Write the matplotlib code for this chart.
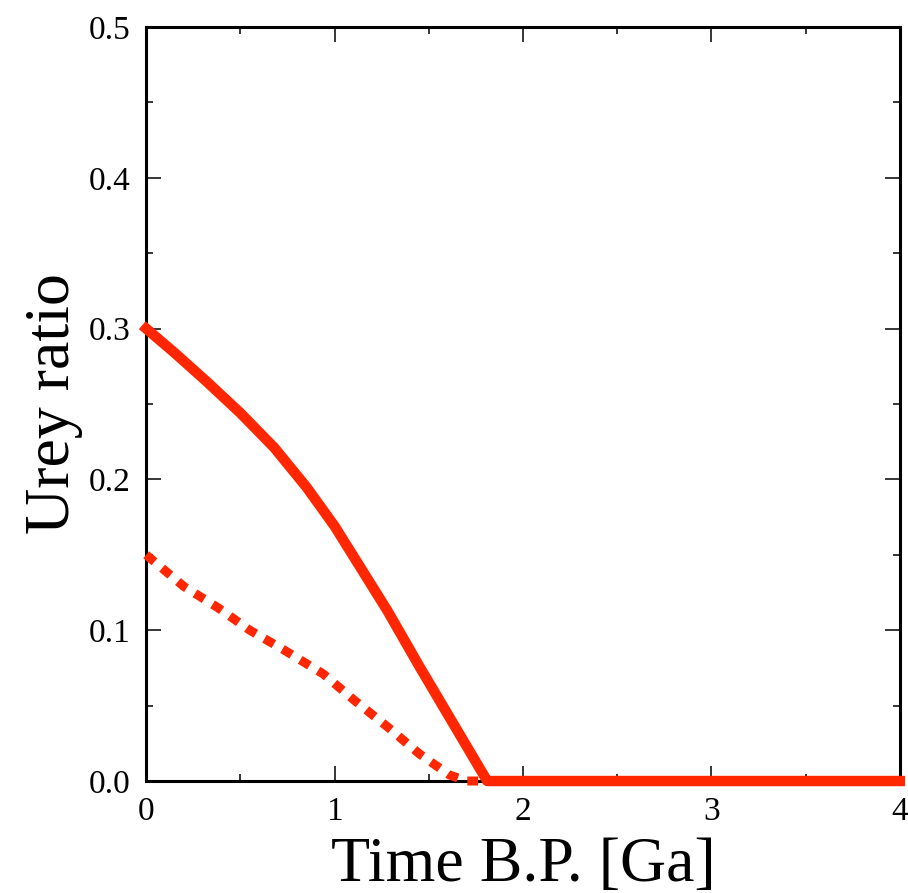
import matplotlib
matplotlib.use("Agg")
import matplotlib.pyplot as plt
from matplotlib.ticker import MultipleLocator

plt.rcParams['font.family'] = ['Liberation Serif', 'DejaVu Serif']

# Urey ratio vs time before present
time_solid = [0.0, 0.15, 0.32, 0.5, 0.68, 0.85, 1.0, 1.1, 1.28, 1.45, 1.63, 1.81, 4.0]
urey_solid = [0.300, 0.284, 0.265, 0.244, 0.221, 0.195, 0.169, 0.149, 0.113, 0.076, 0.038, 0.0, 0.0]

time_dash = [0.0, 0.2, 0.38, 0.55, 0.73, 0.94, 1.1, 1.28, 1.45, 1.61, 1.7, 4.0]
urey_dash = [0.150, 0.129, 0.115, 0.100, 0.087, 0.071, 0.054, 0.036, 0.018, 0.004, 0.0, 0.0]

red = '#ff2600'

fig = plt.figure(figsize=(9.08, 8.93), dpi=100)
ax = fig.add_axes([0.161, 0.1254, 0.830, 0.8444])

ax.plot(time_dash, urey_dash, color=red, lw=6.5, dashes=(1.2, 1.1),
        dash_capstyle='butt', clip_on=False, zorder=4)
ax.plot(time_solid, urey_solid, color=red, lw=7.5, solid_joinstyle='round',
        clip_on=False, zorder=5)

ax.set_xlim(0, 4)
ax.set_ylim(0, 0.5)
ax.xaxis.set_major_locator(MultipleLocator(1))
ax.xaxis.set_minor_locator(MultipleLocator(0.5))
ax.yaxis.set_major_locator(MultipleLocator(0.1))
ax.yaxis.set_minor_locator(MultipleLocator(0.05))
ax.yaxis.set_major_formatter(plt.FormatStrFormatter('%.1f'))

ax.tick_params(which='both', direction='in', top=True, right=True,
               width=1.1, labelsize=24, pad=11)
ax.tick_params(which='major', length=11)
ax.tick_params(which='minor', length=5)
for s in ax.spines.values():
    s.set_linewidth(2.2)

ax.set_xlabel('Time B.P. [Ga]', fontsize=46, labelpad=7)
ax.set_ylabel('Urey ratio', fontsize=46, labelpad=4)

fig.savefig('out.png', dpi=100)
